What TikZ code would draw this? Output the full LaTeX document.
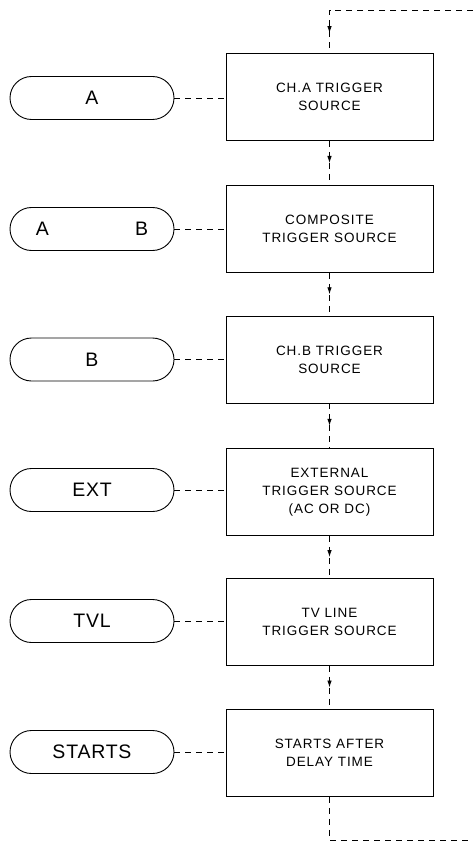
\documentclass[tikz,border=0pt]{standalone}
\usepackage{fontspec}
\setmainfont{Liberation Sans}
\newfontfamily\boxfont[LetterSpace=7]{Liberation Sans}
\newfontfamily\pillfont[LetterSpace=4]{Liberation Sans}
\usetikzlibrary{arrows.meta,decorations.markings}
\tikzset{
  tbox/.style={draw, line width=0.9pt, minimum width=207pt, minimum height=87pt, inner sep=0pt, align=center, font=\boxfont\fontsize{13.5}{18}\selectfont},
  pill/.style={draw, line width=0.9pt, rounded corners=21.5pt, minimum width=164pt, minimum height=43pt, inner sep=0pt, font=\pillfont\fontsize{19.5}{22}\selectfont},
  dconn/.style={line width=0.8pt, dash pattern=on 6pt off 5pt},
  midarrow/.style={dconn, postaction={decorate}, decoration={markings, mark=at position 0.5 with {\arrow{Latex[length=7pt,width=4.5pt]}}}},
  endarrow/.style={dconn, postaction={decorate}, decoration={markings, mark=at position -20pt with {\arrow{Latex[length=7pt,width=4.5pt]}}}}
}
\begin{document}
\begin{tikzpicture}[x=1pt,y=-1pt]
\useasboundingbox (0,0) rectangle (473,842);
\fill[white] (0,0) rectangle (473,842);

\node[tbox] (b1) at (329.5,97) {CH.A TRIGGER\\SOURCE};
\node[tbox] (b2) at (329.5,229) {COMPOSITE\\TRIGGER SOURCE};
\node[tbox] (b3) at (329.5,359.5) {CH.B TRIGGER\\SOURCE};
\node[tbox] (b4) at (329.5,492) {EXTERNAL\\TRIGGER SOURCE\\(AC OR DC)};
\node[tbox] (b5) at (329.5,622) {TV LINE\\TRIGGER SOURCE};
\node[tbox] (b6) at (329.5,753) {STARTS AFTER\\DELAY TIME};

\node[pill] (p1) at (92,98) {A};
\node[pill] (p2) at (92,229) {A\hspace{86pt}B};
\node[pill] (p3) at (92,359.5) {B};
\node[pill] (p4) at (92,490) {EXT};
\node[pill] (p5) at (92,621) {TVL};
\node[pill] (p6) at (92,752) {STARTS};

\foreach \i in {1,...,6} {
  \draw[dconn] (p\i.east) -- (b\i.west |- p\i.east);
}
\foreach \i/\j in {1/2,2/3,3/4,4/5,5/6} {
  \draw[midarrow] (b\i.south) -- (b\j.north);
}
\coordinate (br) at (473,840);
\coordinate (tr) at (473,10);
\draw[dconn] (b6.south) |- (br);
\draw[endarrow] (tr) -| (b1.north);
\end{tikzpicture}
\end{document}
